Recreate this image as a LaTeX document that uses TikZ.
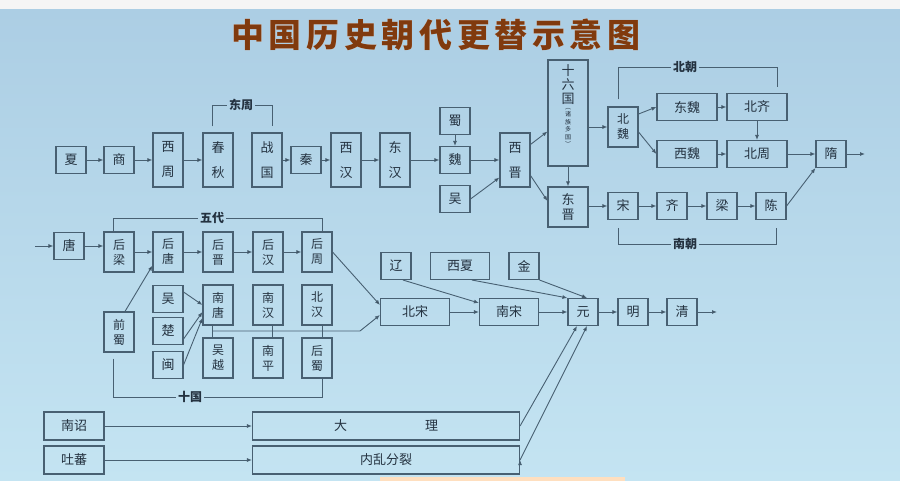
\documentclass[tikz,border=0pt]{standalone}
\usepackage{fontspec}
\usepackage[outline]{contour}
\newfontfamily\hei{Noto Sans CJK SC}
\newfontfamily\titlefont[LetterSpace=14]{Noto Sans CJK SC}
\usetikzlibrary{arrows.meta,positioning,calc}

\definecolor{bgtop}{RGB}{172,206,228}
\definecolor{bgbot}{RGB}{196,228,242}
\definecolor{linec}{RGB}{72,96,114}
\definecolor{textc}{RGB}{36,50,64}
\definecolor{titlec}{RGB}{128,58,14}
\contourlength{1.4pt}

\tikzset{
  box/.style={draw=linec, line width=1.1pt, minimum width=30, minimum height=27,
    inner sep=0pt, text=textc, align=center, font=\hei\fontsize{13}{15}\selectfont},
  tall/.style={box, minimum height=54, font=\hei\fontsize{13}{25}\selectfont},
  mid/.style={box, minimum height=40, font=\hei\fontsize{12}{15}\selectfont},
  group/.style={text=textc, inner sep=2pt, font=\hei\bfseries\fontsize{12}{14}\selectfont},
  link/.style={draw=linec, line width=0.9pt},
  arr/.style={link, -{Latex[length=5pt,width=4pt]}}
}

\begin{document}
\begin{tikzpicture}[x=1pt,y=-1pt]

% background
\useasboundingbox (0,0) rectangle (900,481);
\shade [top color=bgtop, bottom color=bgbot] (0,9) rectangle (900,481);
\fill [black!4] (0,0) rectangle (900,9);
\fill [orange!25!white] (380,477) rectangle (625,481);

\node [font=\titlefont\bfseries\fontsize{33}{35}\selectfont, text=titlec] (title) at (436,35)
  {\contour{white}{中国历史朝代更替示意图}};

% first row
\node [box] (xia) at (71,160) {夏};
\node [box] (shang) at (119,160) {商};
\node [tall] (xizhou) at (168,160) {西\\周};
\node [tall] (chunqiu) at (218,160) {春\\秋};
\node [tall] (zhanguo) at (267,160) {战\\国};
\node [box] (qin) at (306,160) {秦};
\node [tall] (xihan) at (346,160) {西\\汉};
\node [tall] (donghan) at (395,160) {东\\汉};
\node [box] (shu) at (455,121) {蜀};
\node [box] (wei) at (455,160) {魏};
\node [box] (wu) at (455,199) {吴};
\node [tall] (xijin) at (515,160) {西\\晋};
\node [box, minimum width=40, minimum height=106] (slg) at (568,113) {};
\node [font=\hei\fontsize{13}{14}\selectfont, text=textc, align=center, anchor=north,
  inner sep=0pt] (slgt) at ([yshift=-5]slg.north) {十\\六\\国};
\node [font=\hei\fontsize{6}{7.5}\selectfont, text=textc, align=center, anchor=north,
  inner sep=0pt] (slgs) at ([yshift=-3]slgt.south) {︵\\诸\\族\\多\\国\\︶};
\node [box, minimum width=40, minimum height=40] (dongjin) at (568,207) {东\\晋};

% north and south
\node [mid] (beiwei) at (623,127) {北\\魏};
\node [box, minimum width=60] (dongwei) at (687,107) {东魏};
\node [box, minimum width=60] (beiqi) at (757,107) {北齐};
\node [box, minimum width=60] (xiwei) at (687,154) {西魏};
\node [box, minimum width=60] (beizhou) at (757,154) {北周};
\node [box] (sui) at (831,154) {隋};
\coordinate (suiout) at (865,154);
\node [box] (song) at (623,206) {宋};
\node [box] (qi) at (672,206) {齐};
\node [box] (liang) at (722,206) {梁};
\node [box] (chen) at (771,206) {陈};

% second row
\coordinate (tangin) at (35,246);
\node [box] (tang) at (69,246) {唐};
\node [mid] (houliang) at (119,252) {后\\梁};
\node [mid] (houtang) at (168,252) {后\\唐};
\node [mid] (houjin) at (218,252) {后\\晋};
\node [mid] (houhan) at (268,252) {后\\汉};
\node [mid] (houzhou) at (317,252) {后\\周};

\node [mid] (qianshu) at (119,332) {前\\蜀};
\node [box] (wu2) at (168,299) {吴};
\node [box] (chu) at (168,331) {楚};
\node [box] (min) at (168,365) {闽};
\node [mid] (nantang) at (218,305) {南\\唐};
\node [mid] (nanhan) at (268,305) {南\\汉};
\node [mid] (beihan) at (317,305) {北\\汉};
\node [mid] (wuyue) at (218,358) {吴\\越};
\node [mid] (nanping) at (268,358) {南\\平};
\node [mid] (houshu) at (317,358) {后\\蜀};

\node [box] (liao) at (396,266) {辽};
\node [box, minimum width=59] (xixia) at (460,266) {西夏};
\node [box] (jin) at (524,266) {金};
\node [box, minimum width=69] (beisong) at (415,312) {北宋};
\node [box, minimum width=59] (nansong) at (509,312) {南宋};
\node [box] (yuan) at (583,312) {元};
\node [box] (ming) at (633,312) {明};
\node [box] (qing) at (682,312) {清};
\coordinate (qingout) at (717,312);

\node [box, minimum width=60, minimum height=28] (nanzhao) at (74,426) {南诏};
\node [box, minimum width=60, minimum height=28] (tubo) at (74,460) {吐蕃};
\node [box, minimum width=267, minimum height=28] (dali) at (386,426)
  {大\hspace{6em}理};
\node [box, minimum width=267, minimum height=28] (neiluan) at (386,460) {内乱分裂};

% group labels
\node [group] (dongzhou) at (241,105) {东周};
\node [group] (beichao) at (685,67) {北朝};
\node [group] (nanchao) at (685,244) {南朝};
\node [group] (wudai) at (212,218) {五代};
\node [group] (shiguo) at (190,397) {十国};

\path [link]
  ([xshift=-6,yshift=6]chunqiu.north) |- (dongzhou.west)
  (dongzhou.east) -| ([xshift=5,yshift=6]zhanguo.north)
  ([xshift=-5,yshift=7]beiwei.north) |- (beichao.west)
  (beichao.east) -| ([xshift=20,yshift=6]beiqi.north)
  ([xshift=-5,yshift=-8]song.south) |- (nanchao.west)
  (nanchao.east) -| ([xshift=5,yshift=-8]chen.south)
  ([xshift=-6]houliang.north) |- (wudai.west)
  (wudai.east) -| ([xshift=5]houzhou.north)
  ([xshift=-6,yshift=-6]qianshu.south) |- (shiguo.west)
  (shiguo.east) -| ([xshift=5]houshu.south)
  ([xshift=-6]nantang.south) -- ([xshift=-6]wuyue.north)
  ([xshift=4]nanhan.south) -- ([xshift=4]nanping.north)
  ([xshift=5]beihan.south) -- ([xshift=5]houshu.north);

\coordinate (sgl) at (212,331);
\coordinate (sgr) at (360,331);

\path [arr]
  (xia) edge (shang)
  (shang) edge (xizhou)
  (xizhou) edge (chunqiu)
  (zhanguo) edge (qin)
  (qin) edge (xihan)
  (xihan) edge (donghan)
  (donghan) edge (wei)
  (shu) edge (wei)
  (wei) edge (xijin)
  (wu.east) edge ([yshift=10]xijin.south west)
  ([yshift=-12]xijin.north east) edge ([yshift=35]slg.south west)
  ([yshift=12]xijin.south east) edge ([yshift=6]dongjin.west)
  (slg) edge (dongjin)
  (slg.east |- beiwei) edge (beiwei)
  ([yshift=13]beiwei.east) edge (dongwei.west)
  ([yshift=-5]beiwei.east) edge (xiwei.west)
  (dongwei) edge (beiqi)
  (xiwei) edge (beizhou)
  (beiqi) edge (beizhou)
  (beizhou) edge (sui)
  (chen.east) edge (sui.south west)
  (sui) edge (suiout)
  (dongjin.east |- song) edge (song)
  (song) edge (qi)
  (qi) edge (liang)
  (liang) edge (chen)
  (tangin) edge (tang)
  (tang) edge (houliang.west |- tang)
  (houliang) edge (houtang)
  (houtang) edge (houjin)
  (houjin) edge (houhan)
  (houhan) edge (houzhou)
  ([xshift=6]qianshu.north) edge ([yshift=7]houtang.south west)
  ([yshift=7]wu2.east) edge (nantang.west)
  ([yshift=-8]chu.east) edge ([yshift=-7]nantang.west)
  (min.east) edge ([yshift=-13]nantang.west)
  (houzhou.east) edge ([yshift=7]beisong.west)
  (beisong) edge (nansong)
  ([xshift=7]liao.south) edge ([yshift=9]nansong.west)
  ([xshift=12]xixia.south) edge (yuan.north west)
  (jin.south east) edge ([xshift=4]yuan.north)
  (nansong) edge (yuan)
  (yuan) edge (ming)
  (ming) edge (qing)
  (qing) edge (qingout)
  (nanzhao) edge (dali)
  (tubo) edge (neiluan)
  (dali.east) edge ([xshift=-6]yuan.south)
  (neiluan.east) edge ([xshift=4]yuan.south);

\draw [arr] (sgl) -- (sgr) -- ([yshift=-3]beisong.west);

\end{tikzpicture}
\end{document}
